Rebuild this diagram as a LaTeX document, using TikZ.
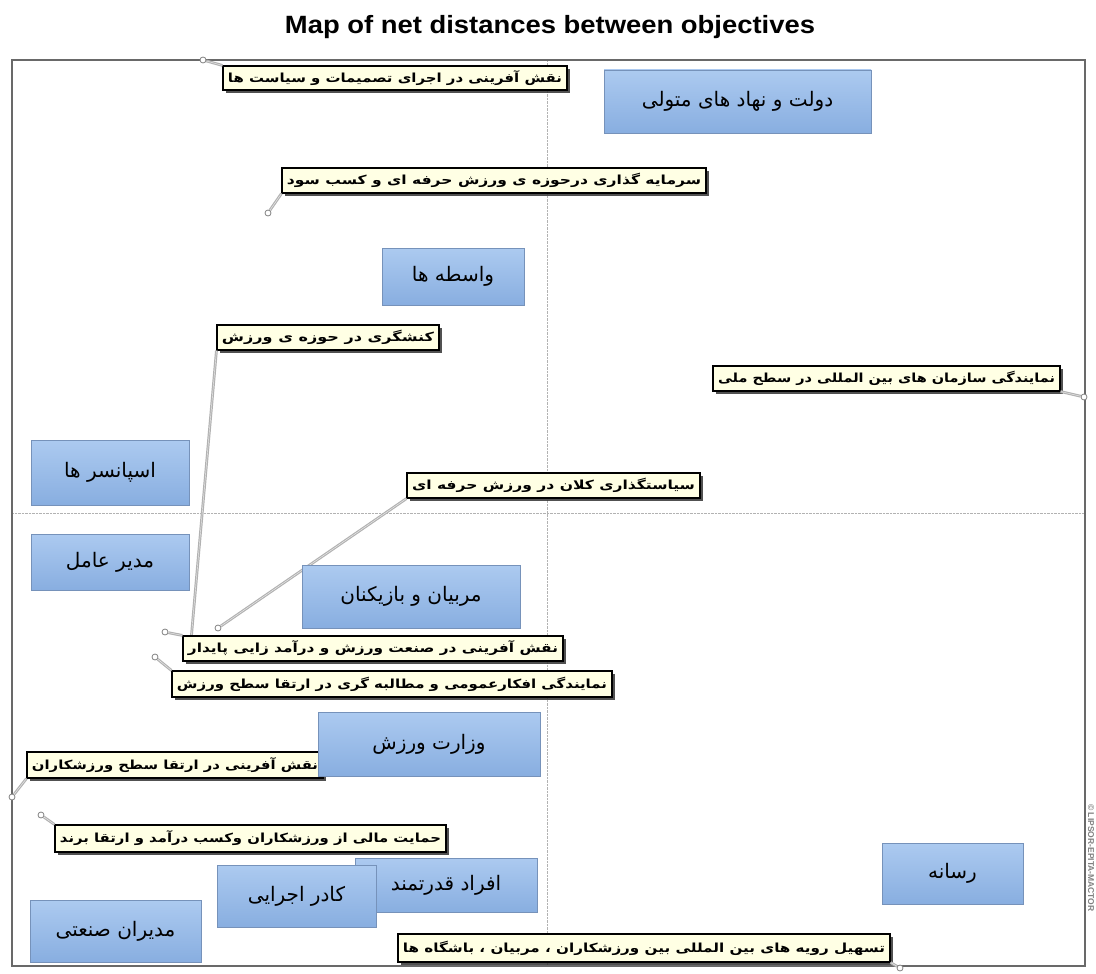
\documentclass[tikz,border=0pt]{standalone}
\usepackage{fontspec}
\setmainfont{Liberation Sans}
\newfontfamily\arabicfont[Script=Arabic]{DejaVu Sans}
\TeXXeTstate=1
\usetikzlibrary{shadows}

\definecolor{actortop}{RGB}{172,202,240}
\definecolor{actorbot}{RGB}{136,174,224}
\definecolor{actorline}{RGB}{118,146,186}
\definecolor{goalfill}{RGB}{255,255,228}
\definecolor{framegray}{RGB}{105,105,105}

\newcommand{\fitfa}[2]{\resizebox{#1pt}{\height}{\arabicfont #2}}

\tikzset{
  actor/.style 2 args={rectangle, draw=actorline, top color=actortop, bottom color=actorbot,
    inner sep=0pt, minimum width=#1pt, minimum height=#2pt, font=\fontsize{20}{22}\selectfont\arabicfont},
  goal/.style 2 args={rectangle, draw=black, line width=1.1pt, fill=goalfill, inner sep=0pt,
    minimum width=#1pt, minimum height=#2pt,
    drop shadow={shadow xshift=3pt, shadow yshift=-3pt, fill=black!80, opacity=0.85},
    font=\fontsize{12.5}{14}\selectfont\bfseries},
  spot/.style={circle, draw=gray, fill=white, line width=0.8pt, minimum size=6pt, inner sep=0pt},
  link/.style={draw=gray!60, line width=1.2pt, double=gray!12, double distance=0.4pt},
}

\begin{document}
\begin{tikzpicture}[x=1pt, y=-1pt]
  \useasboundingbox (0,0) rectangle (1096,974);
  \node (title) at (550,27) {\fontsize{25}{28}\selectfont\bfseries\resizebox{530pt}{\height}{Map of net distances between objectives}};
  % frame and axes
  \draw[gray!60, densely dotted] (547,60) -- (547,966);
  \draw[gray!60, densely dotted] (12,513) -- (1085,513);
  \draw[framegray, line width=1.6pt] (12,60) rectangle (1085,966);
  \node[rotate=-90, text=gray, inner sep=0pt, font=\fontsize{8.5}{9}\selectfont\bfseries] (copy) at (1091,858) {© LIPSOR-EPITA-MACTOR};

  % objective points
  \node[spot] (pa) at (203,60) {};
  \node[spot] (pb) at (268,213) {};
  \coordinate (pc) at (190,652);
  \node[spot] (pd) at (218,628) {};
  \node[spot] (pe) at (165,632) {};
  \node[spot] (pf) at (155,657) {};
  \node[spot] (pg) at (12,797) {};
  \node[spot] (ph) at (41,815) {};
  \node[spot] (pi) at (900,968) {};
  \node[spot] (pj) at (1084,397) {};

  % objectives
  \node[goal={344}{24}] (ga) at (395,78) {\fitfa{334}{\beginR نقش آفرینی در اجرای تصمیمات و سیاست ها\endR}};
  \node[goal={424}{25}] (gb) at (494,180.5) {\fitfa{414}{\beginR سرمایه گذاری درحوزه ی ورزش حرفه ای و کسب سود\endR}};
  \node[goal={222}{25}] (gc) at (328,337.5) {\fitfa{212}{\beginR کنشگری در حوزه ی ورزش\endR}};
  \node[goal={293}{25}] (gd) at (553.5,485.5) {\fitfa{283}{\beginR سیاستگذاری کلان در ورزش حرفه ای\endR}};
  \node[goal={347}{25}] (gj) at (886.5,378.5) {\fitfa{337}{\beginR نمایندگی سازمان های بین المللی در سطح ملی\endR}};
  \node[goal={440}{26}] (gf) at (392,684) {\fitfa{430}{\beginR نمایندگی افکارعمومی و مطالبه گری در ارتقا سطح ورزش\endR}};
  \node[goal={296}{26}] (gg) at (175,765) {\fitfa{286}{\beginR نقش آفرینی در ارتقا سطح ورزشکاران\endR}};
  \node[goal={391}{27}] (gh) at (250.5,838.5) {\fitfa{381}{\beginR حمایت مالی از ورزشکاران وکسب درآمد و ارتقا برند\endR}};
  \node[goal={492}{28}] (gi) at (644,948) {\fitfa{482}{\beginR تسهیل رویه های بین المللی بین ورزشکاران ، مربیان ، باشگاه ها\endR}};

  \draw[link] (pa) -- (ga.north west);
  \draw[link] (pb) -- (gb.south west);
  \draw[link] (gc.south west) -- (pc);
  \draw[link] (gd.south west) -- (pd);
  \draw[link] (pf) -- (gf.north west);
  \draw[link] (pg) -- (gg.south west);
  \draw[link] (ph) -- (gh.north west);
  \draw[link] (gi.south east) -- (pi);
  \draw[link] (gj.south east) -- (pj);
  \node[goal={380}{25}] (ge) at (373,648.5) {\fitfa{370}{\beginR نقش آفرینی در صنعت ورزش و درآمد زایی پایدار\endR}};
  \draw[link] (pe) -- (ge.north west);

  % actors
  \node[actor={267}{63}] (govt) at (737.5,101.5) {\beginR دولت و نهاد های متولی\endR};
  \node[actor={142}{57}] (brokers) at (453,276.5) {\beginR واسطه ها\endR};
  \node[actor={158}{65}] (sponsors) at (110,472.5) {\beginR اسپانسر ها\endR};
  \node[actor={158}{56}] (ceo) at (110,562) {\beginR مدیر عامل\endR};
  \node[actor={218}{63}] (coaches) at (411,596.5) {\beginR مربیان و بازیکنان\endR};
  \node[actor={222}{64}] (ministry) at (429,744) {\beginR وزارت ورزش\endR};
  \node[actor={182}{54}] (powerful) at (446,885) {\beginR افراد قدرتمند\endR};
  \node[actor={159}{62}] (staff) at (296.5,896) {\beginR کادر اجرایی\endR};
  \node[actor={171}{62}] (industry) at (115.5,931) {\beginR مدیران صنعتی\endR};
  \node[actor={141}{61}] (media) at (952.5,873.5) {\beginR رسانه\endR};
\end{tikzpicture}
\end{document}
